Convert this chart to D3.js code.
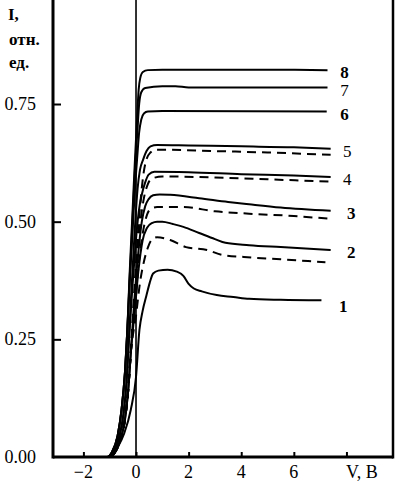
<!DOCTYPE html>
<html><head><meta charset="utf-8">
<script src="https://cdn.jsdelivr.net/npm/d3@7"></script>
<style>
html,body{margin:0;padding:0;background:#fff;}
svg{display:block;}
text{font-family:"Liberation Serif","Times New Roman",serif;fill:#000;}
</style></head>
<body>
<svg id="chart" width="399" height="486"></svg>
<script>
// ---- data (V in volts, I in relative units) ----
const xTicks = [-2, 0, 2, 4, 6];
const xTickLabels = ["\u22122", "0", "2", "4", "6"];
const yTicks = [0, 0.25, 0.5, 0.75];
const yTickLabels = ["0.00", "0.25", "0.50", "0.75"];
const curveNames = ["8", "7", "6", "5", "4", "3", "2", "1"];

const footA = [[-3.15, 0], [-1.1, 0], [-0.9, 0.012], [-0.7, 0.045], [-0.55, 0.1], [-0.42, 0.18], [-0.33, 0.27]];
const footB = [[-3.15, 0], [-1.05, 0], [-0.85, 0.01], [-0.65, 0.04], [-0.48, 0.09], [-0.36, 0.16], [-0.27, 0.25]];
const footC = [[-3.15, 0], [-1.0, 0], [-0.8, 0.01], [-0.6, 0.035], [-0.42, 0.08], [-0.3, 0.14], [-0.2, 0.22]];

const curve8 = footA.concat([[-0.25, 0.38], [-0.15, 0.5], [-0.05, 0.62], [0.04, 0.72], [0.1, 0.78], [0.16, 0.805], [0.26, 0.818], [0.45, 0.822], [1, 0.823], [4, 0.823], [7.28, 0.822]]);
const curve7 = footA.concat([[-0.25, 0.37], [-0.15, 0.48], [-0.05, 0.6], [0.05, 0.69], [0.12, 0.75], [0.2, 0.775], [0.35, 0.784], [1.0, 0.788], [1.5, 0.788], [2.0, 0.785], [4, 0.785], [7.28, 0.785]]);
const curve6 = footA.concat([[-0.24, 0.37], [-0.14, 0.47], [-0.04, 0.57], [0.05, 0.64], [0.12, 0.69], [0.2, 0.717], [0.3, 0.73], [0.45, 0.734], [1, 0.735], [7.25, 0.734]]);
const curve5 = footB.concat([[-0.17, 0.36], [-0.05, 0.48], [0.06, 0.57], [0.15, 0.61], [0.27, 0.632], [0.4, 0.65], [0.55, 0.66], [0.8, 0.663], [2, 0.662], [4, 0.66], [6, 0.658], [7.4, 0.655]]);
const curve5d = footC.concat([[-0.1, 0.32], [0.02, 0.43], [0.15, 0.53], [0.28, 0.6], [0.4, 0.633], [0.55, 0.647], [0.75, 0.653], [1, 0.653], [3, 0.65], [5, 0.647], [7.4, 0.642]]);
const curve4 = footB.concat([[-0.15, 0.35], [-0.02, 0.45], [0.1, 0.52], [0.23, 0.56], [0.34, 0.582], [0.48, 0.6], [0.7, 0.606], [2, 0.605], [4, 0.601], [6, 0.598], [7.4, 0.595]]);
const curve4d = footC.concat([[-0.1, 0.31], [0.03, 0.41], [0.17, 0.5], [0.3, 0.55], [0.45, 0.58], [0.62, 0.592], [1, 0.596], [3, 0.594], [5, 0.59], [7.4, 0.585]]);
const curve3 = footC.concat([[-0.08, 0.32], [0.08, 0.43], [0.22, 0.5], [0.35, 0.533], [0.48, 0.548], [0.65, 0.556], [0.9, 0.558], [1.3, 0.557], [2.4, 0.55], [3.5, 0.542], [4.3, 0.537], [5.5, 0.53], [7.4, 0.523]]);
const curve3d = footC.concat([[-0.05, 0.31], [0.12, 0.42], [0.27, 0.48], [0.42, 0.515], [0.58, 0.528], [0.8, 0.531], [1.8, 0.531], [3, 0.522], [4.3, 0.517], [6, 0.512], [7.4, 0.506]]);
const curve2 = footC.concat([[-0.05, 0.31], [0.1, 0.4], [0.25, 0.46], [0.42, 0.487], [0.6, 0.497], [0.8, 0.5], [1.0, 0.5], [1.4, 0.495], [1.8, 0.489], [2.4, 0.476], [3.0, 0.463], [3.4, 0.455], [4.3, 0.45], [5.5, 0.446], [7.4, 0.44]]);
const curve2d = footC.concat([[0, 0.3], [0.15, 0.37], [0.3, 0.415], [0.45, 0.445], [0.6, 0.462], [0.8, 0.467], [1.3, 0.461], [1.9, 0.446], [2.7, 0.44], [3.3, 0.429], [4.1, 0.425], [5.5, 0.42], [7.2, 0.414]]);
const curve1 = [[-3.15, 0], [-0.95, 0], [-0.7, 0.02], [-0.45, 0.05], [-0.2, 0.1], [0, 0.17], [0.13, 0.27], [0.25, 0.31], [0.4, 0.344], [0.52, 0.37], [0.65, 0.39], [0.85, 0.396], [1.2, 0.398], [1.55, 0.394], [1.8, 0.385], [2.0, 0.368], [2.2, 0.358], [2.5, 0.352], [3.07, 0.344], [3.7, 0.34], [4.3, 0.336], [5.5, 0.334], [7.05, 0.333]];

const solidCurves = [curve8, curve7, curve6, curve5, curve4, curve3, curve2, curve1];
const dashedCurves = [curve5d, curve4d, curve3d, curve2d];
const labelAnchor = [[7.35, 0.822], [7.35, 0.785], [7.35, 0.734], [7.45, 0.655], [7.45, 0.594], [7.6, 0.523], [7.6, 0.44], [7.3, 0.333]];
const labelBold = [true, false, true, false, false, true, true, true];

// ---- layout ----
const W = 399, H = 486;
const m = {left: 53, right: 6, top: 0, bottom: 29};
const svg = d3.select("#chart");
const x = d3.scaleLinear().domain([-3.156, 9.77]).range([m.left, W - m.right]);
const y = d3.scaleLinear().domain([0, 0.971]).range([H - m.bottom, m.top]);

const line = d3.line().x(d => x(d[0])).y(d => y(d[1])).curve(d3.curveMonotoneX);

// zero-voltage vertical line
svg.append("line").attr("x1", x(0)).attr("x2", x(0)).attr("y1", y(0)).attr("y2", 0)
  .attr("stroke", "#000").attr("stroke-width", 1.6);

// curves
svg.append("g").selectAll("path").data(solidCurves).join("path")
  .attr("d", line).attr("fill", "none").attr("stroke", "#000").attr("stroke-width", 2)
  .attr("stroke-linejoin", "round");
svg.append("g").selectAll("path").data(dashedCurves).join("path")
  .attr("d", line).attr("fill", "none").attr("stroke", "#000").attr("stroke-width", 2)
  .attr("stroke-dasharray", "9,6");

// frame
svg.append("line").attr("x1", m.left).attr("x2", m.left).attr("y1", 0).attr("y2", y(0) + 1.5)
  .attr("stroke", "#000").attr("stroke-width", 3);
svg.append("line").attr("x1", W - m.right).attr("x2", W - m.right).attr("y1", 0).attr("y2", y(0) + 1.5)
  .attr("stroke", "#000").attr("stroke-width", 2.5);

// bottom axis (ticks inward)
const xAxis = d3.axisBottom(x).tickValues(xTicks.concat([8])).tickSize(-5).tickFormat("");
const gx = svg.append("g").attr("transform", `translate(0,${y(0)})`).call(xAxis);
gx.select(".domain").attr("stroke-width", 3).attr("d", `M${m.left},0H${W - m.right}`);
gx.selectAll(".tick line").attr("stroke-width", 2);
svg.append("g").selectAll("text").data(xTicks).join("text")
  .attr("x", d => x(d)).attr("y", 478).attr("text-anchor", "middle")
  .attr("font-size", 18).text((d, i) => xTickLabels[i]);
svg.append("text").attr("x", 346).attr("y", 478).attr("font-size", 18).text("V, B");

// left axis (ticks inward)
const yAxis = d3.axisLeft(y).tickValues(yTicks.slice(1)).tickSize(-8).tickFormat("");
const gy = svg.append("g").attr("transform", `translate(${m.left},0)`).call(yAxis);
gy.select(".domain").remove();
gy.selectAll(".tick line").attr("stroke-width", 2);
svg.append("g").selectAll("text").data(yTicks).join("text")
  .attr("x", 36).attr("y", d => y(d) + 6).attr("text-anchor", "end")
  .attr("font-size", 18).text((d, i) => yTickLabels[i]);

// axis title
const title = svg.append("g").attr("font-size", 17).attr("font-weight", "bold");
title.append("text").attr("x", 8).attr("y", 20).text("I,");
title.append("text").attr("x", 9).attr("y", 45).text("отн.");
title.append("text").attr("x", 9).attr("y", 68).text("ед.");

// curve labels
svg.append("g").selectAll("text").data(curveNames).join("text")
  .attr("x", (d, i) => x(labelAnchor[i][0]) + 11)
  .attr("y", (d, i) => y(labelAnchor[i][1]) + (i === 7 ? 12 : 8))
  .attr("font-size", 17).attr("font-weight", (d, i) => labelBold[i] ? "bold" : "normal")
  .text(d => d);
</script>
</body></html>
